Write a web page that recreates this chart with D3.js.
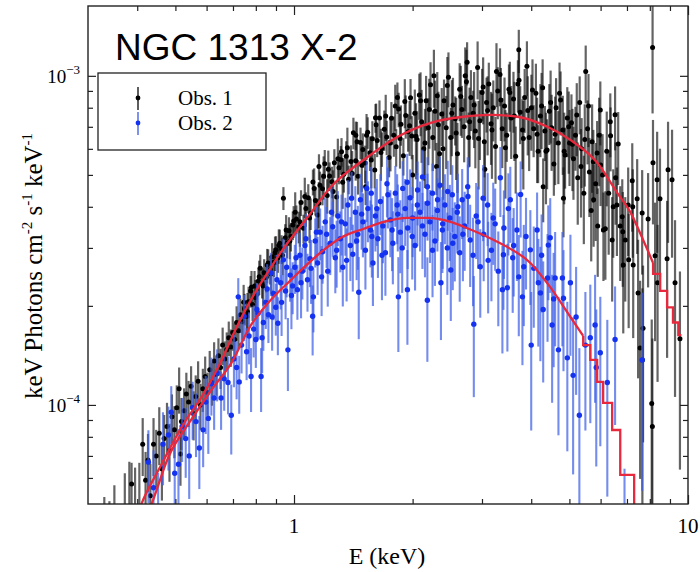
<!DOCTYPE html>
<html>
<head>
<meta charset="utf-8">
<script src="https://cdn.jsdelivr.net/npm/d3@7"></script>
<style>
  body { margin: 0; background: #fff; }
  #chart { width: 700px; height: 572px; }
</style>
</head>
<body>
<div id="chart"></div>
<script>
/*  spectrum data: [energy keV, flux, relative error]  */
var obs1Points = [
  [0.330,3.5e-5,.5],[0.340,3.4e-5,.5],[0.350,3.8e-5,.5],[0.372,4.0e-5,.55],[0.382,4.2e-5,.6],[0.387,5.75e-5,.16],
  [0.395,4.3e-5,.5],[0.405,4.6e-5,.45],[0.413,7.6e-5,.2],[0.420,5.9e-5,.22],[0.426,6.8e-5,.2],[0.432,5.3e-5,.25],
  [0.440,7.6e-5,.2],[0.447,7.0e-5,.2],[0.455,8.2e-5,.2],[0.462,6.4e-5,.2],[0.468,7.9e-5,.18],[0.476,8.6e-5,.18],
  [0.483,7.3e-5,.2],[0.490,9.2e-5,.17],[0.497,8.4e-5,.18],[0.504,9.8e-5,.17],[0.511,1.12e-4,.16],[0.515,7.1e-5,.2],
  [0.518,8.9e-5,.18],[0.526,9.6e-5,.17],[0.533,1.08e-4,.16],[0.540,1.02e-4,.16],[0.548,1.14e-4,.15],[0.556,9.4e-5,.17],
  [0.563,1.06e-4,.16],[0.571,1.18e-4,.15],[0.579,1.00e-4,.16],[0.587,1.12e-4,.15],[0.595,1.22e-4,.15],[0.603,1.09e-4,.15],
  [0.611,1.28e-4,.14],[0.619,1.17e-4,.15],[0.627,1.36e-4,.14],[0.635,1.24e-4,.14],[0.643,1.41e-4,.13],[0.651,1.30e-4,.14],
  [0.659,1.52e-4,.13],[0.667,1.38e-4,.13],[0.675,1.47e-4,.13],[0.683,1.60e-4,.12],[0.691,1.50e-4,.13],[0.699,1.66e-4,.12],
  [0.707,1.58e-4,.12],[0.715,1.78e-4,.12],[0.723,1.68e-4,.12],[0.731,1.88e-4,.12],[0.740,1.79e-4,.12],[0.745,2.05e-4,.13],
  [0.749,1.96e-4,.11],[0.758,1.86e-4,.12],[0.762,1.92e-4,.14],[0.767,2.06e-4,.11],[0.776,2.22e-4,.11],[0.780,2.28e-4,.12],
  [0.785,2.02e-4,.11],[0.794,2.30e-4,.11],[0.798,2.12e-4,.13],[0.803,2.16e-4,.11],[0.812,2.38e-4,.1],[0.816,2.45e-4,.12],
  [0.821,2.60e-4,.1],[0.830,2.34e-4,.1],[0.835,2.30e-4,.13],[0.840,2.52e-4,.1],[0.850,2.44e-4,.1],[0.855,2.66e-4,.12],
  [0.860,2.70e-4,.1],[0.870,2.58e-4,.1],[0.875,2.50e-4,.13],[0.880,2.82e-4,.1],[0.890,2.72e-4,.1],[0.895,2.90e-4,.12],
  [0.900,2.96e-4,.1],[0.910,2.80e-4,.1],[0.915,3.05e-4,.12],[0.920,3.10e-4,.1],[0.930,2.98e-4,.1],[0.935,2.85e-4,.13],
  [0.940,4.25e-4,.08],[0.950,3.22e-4,.1],[0.955,3.40e-4,.11],[0.960,3.10e-4,.1],[0.971,3.38e-4,.1],[0.976,3.15e-4,.12],
  [0.982,3.25e-4,.1],[0.993,3.52e-4,.1],[0.998,3.62e-4,.11],
  [1.007,3.85e-4,.15],[1.014,3.67e-4,.1],[1.028,3.48e-4,.11],[1.035,3.60e-4,.16],[1.042,4.12e-4,.09],[1.057,3.44e-4,.1],
  [1.065,4.30e-4,.14],[1.072,3.95e-4,.12],[1.087,4.26e-4,.1],[1.095,3.70e-4,.16],[1.102,3.82e-4,.11],[1.117,4.76e-4,.09],
  [1.125,4.55e-4,.15],[1.133,4.18e-4,.1],[1.148,3.78e-4,.12],[1.156,4.10e-4,.16],[1.157,5.30e-4,.09],[1.164,4.65e-4,.1],
  [1.181,4.54e-4,.11],[1.189,4.95e-4,.15],[1.197,5.41e-4,.1],[1.214,4.33e-4,.12],[1.222,5.20e-4,.14],[1.231,4.96e-4,.1],
  [1.248,4.77e-4,.11],[1.257,4.45e-4,.16],[1.266,5.44e-4,.1],[1.283,4.28e-4,.12],[1.292,5.60e-4,.15],[1.301,5.26e-4,.11],
  [1.315,5.56e-4,.1],[1.320,5.88e-4,.1],[1.329,4.75e-4,.17],[1.338,5.02e-4,.12],[1.357,5.70e-4,.11],[1.366,6.05e-4,.15],
  [1.376,4.85e-4,.1],[1.395,5.49e-4,.12],[1.405,5.05e-4,.17],[1.415,6.72e-4,.11],[1.434,5.52e-4,.13],[1.435,6.60e-4,.1],
  [1.445,6.30e-4,.15],[1.454,4.95e-4,.12],[1.475,6.27e-4,.11],[1.486,5.35e-4,.17],[1.495,5.97e-4,.12],[1.516,5.43e-4,.13],
  [1.520,4.60e-4,.12],[1.528,6.60e-4,.16],[1.538,6.74e-4,.11],[1.559,5.84e-4,.12],[1.571,5.55e-4,.18],[1.581,6.44e-4,.13],
  [1.603,5.17e-4,.12],[1.610,7.46e-4,.1],[1.616,7.10e-4,.16],[1.626,6.36e-4,.11],[1.648,7.45e-4,.13],[1.662,5.85e-4,.18],
  [1.672,6.01e-4,.12],[1.695,6.88e-4,.14],[1.709,7.55e-4,.16],[1.719,6.52e-4,.12],[1.743,5.65e-4,.13],[1.757,6.25e-4,.18],
  [1.767,7.43e-4,.12],[1.792,6.60e-4,.14],[1.807,8.10e-4,.16],[1.817,6.09e-4,.13],[1.830,8.60e-4,.11],[1.843,7.93e-4,.12],
  [1.858,6.45e-4,.19],[1.868,7.13e-4,.14],[1.895,5.72e-4,.13],[1.911,8.35e-4,.17],[1.921,7.58e-4,.15],[1.948,6.76e-4,.13],
  [1.965,7.05e-4,.19],[1.976,8.58e-4,.14],[1.990,6.56e-4,.15],[2.000,5.0e-4,.15],
  [2.026,7.7e-4,.18],[2.040,6.55e-4,.26],[2.053,6.4e-4,.22],[2.080,8.75e-4,.16],[2.095,8.4e-4,.22],[2.108,7.25e-4,.25],
  [2.135,6.0e-4,.2],[2.150,6.25e-4,.27],[2.164,8.4e-4,.19],[2.192,6.95e-4,.23],[2.205,7.9e-4,.24],[2.221,9.4e-4,.17],
  [2.250,6.5e-4,.21],[2.265,1.0e-3,.2],[2.280,7.8e-4,.24],[2.300,5.3e-4,.18],[2.310,8.7e-4,.18],[2.325,7.1e-4,.26],
  [2.341,5.8e-4,.22],[2.371,7.65e-4,.2],[2.390,6.0e-4,.3],[2.403,8.4e-4,.16],[2.434,6.95e-4,.25],[2.450,9.35e-4,.22],
  [2.466,9.9e-4,.19],[2.499,6.5e-4,.23],[2.515,7.7e-4,.26],[2.532,8.15e-4,.21],[2.565,7.4e-4,.17],[2.580,6.7e-4,.28],
  [2.599,5.8e-4,.24],[2.633,9.1e-4,.2],[2.650,8.65e-4,.24],[2.668,7.9e-4,.18],[2.703,7.0e-4,.22],[2.720,1.0e-3,.22],
  [2.739,9.6e-4,.25],[2.750,1.10e-3,.15],[2.775,6.5e-4,.19],[2.790,7.25e-4,.27],[2.812,8.6e-4,.21],[2.849,7.7e-4,.17],
  [2.865,8.15e-4,.26],[2.886,6.8e-4,.23],[2.924,1.06e-3,.2],[2.940,6.45e-4,.3],[2.963,7.3e-4,.24],[3.002,8.9e-4,.18],
  [3.020,9.25e-4,.23],[3.041,6.3e-4,.22],[3.050,5.2e-4,.2],[3.081,8.3e-4,.19],[3.100,7.85e-4,.27],[3.122,9.45e-4,.16],
  [3.163,7.15e-4,.25],[3.180,6.85e-4,.29],[3.205,8.0e-4,.21],[3.247,6.1e-4,.23],[3.265,1.03e-3,.22],[3.290,9.0e-4,.18],
  [3.333,1.01e-3,.2],[3.350,8.45e-4,.25],[3.377,6.9e-4,.24],[3.422,8.1e-4,.22],[3.440,6.05e-4,.3],[3.467,6.6e-4,.17],
  [3.512,9.1e-4,.19],[3.530,8.9e-4,.24],[3.559,7.45e-4,.25],[3.606,8.5e-4,.21],[3.625,7.55e-4,.27],[3.653,5.7e-4,.23],
  [3.701,9.45e-4,.18],[3.720,1.20e-3,.15],[3.725,9.7e-4,.23],[3.750,7.75e-4,.2],[3.800,6.85e-4,.24],[3.820,6.45e-4,.3],
  [3.850,8.6e-4,.22],[3.901,1.07e-3,.19],[3.920,7.85e-4,.27],[3.952,6.5e-4,.21],[4.004,8.0e-4,.26],[4.030,9.05e-4,.24],
  [4.057,6.9e-4,.18],[4.111,8.85e-4,.23],[4.140,6.65e-4,.29],[4.165,5.9e-4,.2],[4.220,7.55e-4,.25],[4.250,8.1e-4,.26],
  [4.276,9.2e-4,.22],[4.290,4.6e-4,.22],[4.332,6.8e-4,.19],[4.360,5.9e-4,.31],[4.389,5.95e-4,.24],[4.447,7.8e-4,.21],
  [4.480,8.3e-4,.25],[4.506,6.95e-4,.26],[4.566,5.4e-4,.2],[4.600,6.65e-4,.3],[4.626,8.0e-4,.23],[4.687,6.25e-4,.25],
  [4.720,8.85e-4,.24],[4.749,8.45e-4,.22],[4.811,6.85e-4,.27],[4.830,4.25e-4,.24],[4.850,5.9e-4,.31],[4.875,5.75e-4,.21],
  [4.939,7.45e-4,.24],[4.980,7.0e-4,.28],[5.004,6.25e-4,.26],
  [5.06,7.2e-4,.22],[5.09,6.2e-4,.28],[5.12,5.6e-4,.25],[5.18,6.6e-4,.22],[5.22,7.6e-4,.25],[5.25,4.9e-4,.28],
  [5.31,8.3e-4,.2],[5.35,5.3e-4,.3],[5.37,6.0e-4,.24],[5.44,4.4e-4,.3],[5.47,6.4e-4,.28],[5.50,1.03e-3,.2],
  [5.56,6.9e-4,.22],[5.59,8.1e-4,.25],[5.62,5.1e-4,.27],[5.68,3.9e-4,.3],[5.71,6.3e-4,.3],[5.75,5.48e-4,.25],
  [5.76,4.2e-4,.28],[5.83,4.7e-4,.33],[5.88,5.83e-4,.25],[5.90,3.50e-4,.3],[5.95,6.6e-4,.3],[5.99,7.88e-4,.22],
  [6.00,5.36e-4,.25],[6.07,5.0e-4,.33],[6.10,3.40e-4,.3],[6.17,3.43e-4,.3],[6.22,5.9e-4,.32],[6.29,4.4e-4,.35],
  [6.35,7.25e-4,.22],[6.36,6.57e-4,.22],[6.42,3.17e-4,.35],[6.46,4.00e-4,.3],[6.53,7.61e-4,.22],[6.55,4.90e-4,.28],
  [6.60,4.05e-4,.3],[6.65,6.21e-4,.25],[6.73,3.50e-4,.32],[6.81,3.73e-4,.3],[6.83,3.36e-4,.32],[6.85,2.66e-4,.38],
  [6.93,3.17e-4,.35],[7.05,4.05e-4,.3],[7.07,2.76e-4,.38],[7.22,4.80e-4,.3],[7.24,4.00e-4,.3],[7.26,2.66e-4,.4],
  [7.43,4.23e-4,.32],[7.47,2.19e-4,.45],[7.56,1.49e-4,.6],[7.65,3.83e-4,.35],[7.66,1.37e-4,.65],[7.69,1.71e-4,.55],
  [7.92,3.67e-4,.38],[8.09,1.01e-4,.8],[8.12,8.6e-5,.85],[8.13,1.22e-3,.37],[8.15,5.44e-4,.35],[8.25,2.84e-4,.45],
  [8.35,4.83e-4,.4],[8.37,2.35e-4,.5],[8.49,4.23e-4,.42],[8.85,2.78e-4,.5],[8.90,5.18e-4,.4],[9.11,4.83e-4,.42],
  [9.27,2.35e-4,.55],[9.54,1.59e-4,.6]
];

var obs2Points = [
  [0.427,6.7e-5,.25],[0.440,5.6e-5,.3],[0.452,4.6e-5,.35],[0.465,7.6e-5,.25],[0.480,8.1e-5,.22],[0.488,9.5e-5,.2],
  [0.498,6.2e-5,.28],[0.509,6.6e-5,.28],[0.520,8.6e-5,.22],[0.531,7.9e-5,.24],[0.542,7.0e-5,.26],[0.553,9.8e-5,.2],
  [0.564,8.9e-5,.22],[0.575,7.4e-5,.25],[0.588,8.4e-5,.23],[0.597,1.02e-4,.2],[0.606,9.1e-5,.22],[0.617,1.16e-4,.2],
  [0.627,1.05e-4,.2],[0.638,1.25e-4,.18],[0.653,1.05e-4,.2],[0.665,1.20e-4,.2],[0.680,1.17e-4,.2],[0.693,9.3e-5,.24],
  [0.704,1.38e-4,.18],[0.715,1.30e-4,.2],[0.722,2.13e-4,.14],[0.726,1.175e-4,.2],[0.736,1.52e-4,.18],[0.747,1.86e-4,.16],
  [0.758,1.45e-4,.18],[0.769,1.62e-4,.18],[0.778,1.22e-4,.22],[0.790,1.70e-4,.18],[0.800,1.58e-4,.18],[0.805,1.95e-4,.2],
  [0.811,1.90e-4,.17],[0.825,1.22e-4,.22],[0.830,1.60e-4,.22],[0.836,1.78e-4,.18],[0.848,2.05e-4,.17],[0.855,2.25e-4,.19],
  [0.861,1.88e-4,.18],[0.874,2.52e-4,.15],[0.880,1.85e-4,.21],[0.887,2.18e-4,.17],[0.899,1.98e-4,.18],[0.905,2.40e-4,.19],
  [0.910,1.77e-4,.2],[0.925,2.35e-4,.17],[0.930,2.05e-4,.21],[0.940,2.76e-4,.16],[0.952,2.22e-4,.18],[0.958,2.62e-4,.19],
  [0.965,1.47e-4,.25],[0.978,2.48e-4,.17],[0.985,2.15e-4,.21],[0.992,2.30e-4,.18],[1.005,2.62e-4,.17],[1.012,2.80e-4,.2],
  [1.020,2.24e-4,.19],[1.035,2.85e-4,.17],[1.042,2.35e-4,.22],[1.050,2.55e-4,.18],[1.066,3.05e-4,.17],[1.072,3.20e-4,.19],
  [1.082,2.40e-4,.2],[1.098,2.78e-4,.18],[1.105,2.60e-4,.22],[1.115,1.86e-4,.24],[1.120,2.13e-4,.22],[1.132,3.15e-4,.17],
  [1.140,3.35e-4,.2],[1.148,2.70e-4,.2],[1.165,3.35e-4,.18],[1.175,2.45e-4,.24],[1.182,2.92e-4,.2],[1.200,3.60e-4,.18],
  [1.210,3.30e-4,.21],[1.218,2.55e-4,.22],[1.236,3.10e-4,.2],[1.245,3.85e-4,.2],[1.254,3.48e-4,.19],[1.273,2.80e-4,.22],
  [1.283,2.95e-4,.23],[1.292,3.75e-4,.19],[1.311,3.20e-4,.21],[1.320,3.60e-4,.21],[1.330,2.62e-4,.24],[1.350,3.55e-4,.2],
  [1.360,2.75e-4,.25],[1.370,4.05e-4,.19],[1.390,3.05e-4,.22],[1.400,4.25e-4,.2],[1.410,2.87e-4,.23],[1.431,3.85e-4,.2],
  [1.442,3.15e-4,.24],[1.452,3.30e-4,.22],[1.460,2.20e-4,.28],[1.474,4.20e-4,.2],[1.485,3.80e-4,.22],[1.496,3.60e-4,.22],
  [1.518,2.95e-4,.24],[1.530,4.55e-4,.21],[1.540,3.95e-4,.21],[1.563,3.40e-4,.23],[1.570,4.40e-4,.2],[1.576,3.25e-4,.25],
  [1.586,2.70e-4,.26],[1.609,3.75e-4,.22],[1.623,3.95e-4,.23],[1.633,3.20e-4,.24],[1.657,4.15e-4,.21],[1.672,2.85e-4,.27],
  [1.681,3.50e-4,.23],[1.706,2.90e-4,.26],[1.722,4.70e-4,.21],[1.731,4.35e-4,.21],[1.756,3.65e-4,.23],[1.774,3.40e-4,.25],
  [1.782,3.10e-4,.25],[1.808,4.40e-4,.21],[1.827,4.05e-4,.24],[1.834,3.80e-4,.23],[1.840,2.13e-4,.32],[1.861,3.35e-4,.25],
  [1.882,3.00e-4,.27],[1.888,4.55e-4,.21],[1.915,3.95e-4,.23],[1.938,4.75e-4,.22],[1.940,2.24e-4,.32],[1.943,3.45e-4,.25],
  [1.971,4.26e-4,.22],[1.996,3.25e-4,.26],[2.000,3.70e-4,.24],[2.029,3.05e-4,.27],[2.056,4.05e-4,.25],[2.059,4.50e-4,.22],
  [2.089,3.85e-4,.24],[2.118,3.50e-4,.26],[2.119,4.93e-4,.21],[2.150,3.30e-4,.26],[2.180,2.08e-4,.35],[2.181,4.60e-4,.23],
  [2.182,4.10e-4,.23],[2.214,3.60e-4,.25],[2.246,4.40e-4,.23],[2.247,2.95e-4,.28],[2.279,3.15e-4,.27],[2.312,3.90e-4,.25],
  [2.314,4.20e-4,.25],[2.346,4.65e-4,.22],[2.360,2.35e-4,.33],[2.380,3.40e-4,.26],[2.384,3.55e-4,.27],[2.415,4.05e-4,.24],
  [2.450,3.00e-4,.28],[2.455,4.45e-4,.24],[2.486,3.70e-4,.26],[2.500,2.57e-4,.3],[2.522,4.35e-4,.23],[2.529,3.10e-4,.28],
  [2.559,3.25e-4,.27],[2.596,3.85e-4,.25],[2.605,4.00e-4,.26],[2.634,2.90e-4,.29],[2.672,4.20e-4,.24],[2.683,3.30e-4,.28],
  [2.711,3.50e-4,.27],[2.760,4.60e-4,.23],[2.764,4.30e-4,.25],[2.800,3.17e-4,.28],[2.847,2.85e-4,.3],[2.860,1.76e-4,.4],
  [2.900,3.75e-4,.26],[2.932,3.60e-4,.28],[2.970,2.63e-4,.3],[3.020,4.25e-4,.26],[3.030,3.30e-4,.28],[3.100,4.05e-4,.25],
  [3.110,2.75e-4,.31],[3.170,2.95e-4,.3],[3.204,3.70e-4,.28],[3.240,3.55e-4,.28],[3.300,2.55e-4,.32],[3.340,4.90e-4,.24],
  [3.380,2.24e-4,.36],[3.400,2.86e-4,.32],[3.410,3.45e-4,.3],[3.480,2.27e-4,.36],[3.500,3.95e-4,.28],[3.540,4.20e-4,.26],
  [3.590,2.80e-4,.32],[3.610,3.05e-4,.3],[3.680,3.40e-4,.3],[3.720,2.45e-4,.34],[3.760,4.36e-4,.26],[3.800,2.13e-4,.38],
  [3.830,2.63e-4,.34],[3.880,3.25e-4,.31],[3.980,2.96e-4,.32],[4.000,1.52e-4,.45],[4.060,2.60e-4,.34],[4.140,3.40e-4,.3],
  [4.170,2.35e-4,.36],[4.220,2.19e-4,.38],[4.250,2.85e-4,.33],[4.290,1.95e-4,.4],[4.400,2.43e-4,.36],[4.420,3.06e-4,.32],
  [4.470,3.22e-4,.32],[4.520,1.75e-4,.42],[4.560,2.10e-4,.38],[4.600,2.43e-4,.38],[4.690,1.47e-4,.45],[4.800,2.43e-4,.38],
  [4.830,2.11e-4,.4],[4.940,1.39e-4,.48],[5.030,2.35e-4,.4],[5.110,1.23e-4,.5],[5.200,1.85e-4,.42],[5.300,9.3e-5,.6],
  [5.490,1.52e-4,.45],[5.650,1.60e-4,.45],[5.810,1.75e-4,.42],[5.850,1.30e-4,.5],[5.990,1.44e-4,.48],[6.240,1.17e-4,.55],
  [6.530,1.58e-4,.45],[6.900,4.0e-5,.6],[7.650,1.37e-4,.6]
];

/*  best-fit model curves: smooth part [energy keV, flux], then binned steps  */
var model1Curve = [
  [0.39,4.2e-5],[0.410,5.0e-5],[0.453,6.34e-5],[0.526,8.81e-5],[0.581,1.05e-4],[0.646,1.32e-4],[0.713,1.71e-4],
  [0.778,2.09e-4],[0.849,2.48e-4],[0.943,3.0e-4],[1.085,3.73e-4],[1.241,4.6e-4],[1.504,5.56e-4],[1.834,6.53e-4],
  [2.223,7.2e-4],[2.694,7.51e-4],[3.153,7.61e-4],[3.691,7.51e-4],[4.396,7.0e-4],[5.026,6.39e-4],[5.884,5.44e-4],
  [6.612,4.41e-4],[7.133,3.86e-4],[7.557,3.33e-4],[7.90,2.95e-4],[8.155,2.70e-4]
];
var model1Steps = [
  [8.155,2.70e-4],[8.155,2.50e-4],[8.50,2.50e-4],[8.50,2.22e-4],[8.85,2.22e-4],[8.85,1.98e-4],[9.16,1.98e-4],
  [9.16,1.78e-4],[9.45,1.78e-4],[9.45,1.63e-4],[9.62,1.63e-4]
];
var model2Curve = [
  [0.41,4.2e-5],[0.435,5.0e-5],[0.480,6.95e-5],[0.548,9.0e-5],[0.617,1.11e-4],[0.693,1.34e-4],[0.778,1.75e-4],
  [0.859,2.04e-4],[0.983,2.40e-4],[1.15,2.86e-4],[1.315,3.22e-4],[1.504,3.43e-4],[1.69,3.60e-4],[1.943,3.70e-4],
  [2.184,3.70e-4],[2.497,3.60e-4],[2.694,3.48e-4],[3.28,3.13e-4],[3.98,2.70e-4],[4.47,2.28e-4],[5.03,1.85e-4],
  [5.42,1.62e-4]
];
var model2Steps = [
  [5.42,1.62e-4],[5.42,1.52e-4],[5.65,1.52e-4],[5.65,1.37e-4],[5.88,1.37e-4],[5.88,1.175e-4],[6.09,1.175e-4],
  [6.09,1.014e-4],[6.42,1.014e-4],[6.42,8.39e-5],[6.73,8.39e-5],[6.73,6.13e-5],[7.30,6.13e-5],[7.30,3.0e-5]
];

var xMajorTicks = [1, 10];
var xMinorTicks = [0.4, 0.5, 0.6, 0.7, 0.8, 0.9, 2, 3, 4, 5, 6, 7, 8, 9];
var yMajorTicks = [1e-4, 1e-3];
var yMajorExponents = ["\u22124", "\u22123"];
var yMinorTicks = [6e-5, 7e-5, 8e-5, 9e-5, 2e-4, 3e-4, 4e-4, 5e-4, 6e-4, 7e-4, 8e-4, 9e-4];
var legendLabels = ["Obs. 1", "Obs. 2"];
var chartTitle = "NGC 1313 X-2";

function SpectrumChart() {

    var self = this;

    self.initialize = function (graphConf) {
        self.el = document.getElementById(graphConf.el);
        self.margin = { top: 6, right: 12, bottom: 68, left: 88 };
        self.graphWidth = 700;
        self.graphHeight = 572;
        self.width = self.graphWidth - self.margin.left - self.margin.right;
        self.height = self.graphHeight - self.margin.top - self.margin.bottom;
        self.serif = "'Liberation Serif', 'DejaVu Serif', serif";
        self.colors = { obs1: "#000", obs1Bar: "#111", obs2: "#1432f0", obs2Bar: "#3f5fe6", model: "#e8283c" };
        self.parseData();
    }

    self.parseData = function () {
        self.xScale = d3.scaleLog().domain([0.3, 10]).range([0, self.width]);
        self.yScale = d3.scaleLog().domain([5e-5, 1.63e-3]).range([self.height, 0]);
        self.render();
    }

    self.render = function () {
        self.getChartingAreaPane();
        self.renderSeries(obs1Points, "obs1", self.colors.obs1Bar, 0.65, 2.2, self.colors.obs1, 2.5);
        self.renderSeries(obs2Points, "obs2", self.colors.obs2Bar, 0.72, 2.1, self.colors.obs2, 2.7);
        self.renderModels();
        self.renderAxes();
        self.renderLabels();
        self.renderLegend();
    }

    self.getChartingAreaPane = function () {
        self.svg = d3.select(self.el).append("svg")
            .attr("width", self.graphWidth)
            .attr("height", self.graphHeight);

        self.svg.append("defs").append("clipPath").attr("id", "plotClip")
            .append("rect").attr("width", self.width).attr("height", self.height);

        self.g = self.svg.append("g")
            .attr("transform", "translate(" + self.margin.left + "," + self.margin.top + ")");
        self.plot = self.g.append("g").attr("clip-path", "url(#plotClip)");
    }

    self.renderSeries = function (points, cls, barColor, barOpacity, barWidth, dotColor, radius) {
        var layer = self.plot.append("g").attr("class", cls);

        /*  error bars  */
        layer.selectAll("line")
            .data(points)
            .enter().append("line")
            .attr("x1", function (d) { return self.xScale(d[0]); })
            .attr("x2", function (d) { return self.xScale(d[0]); })
            .attr("y1", function (d) { return self.yScale(d[1] * (1 + d[2])); })
            .attr("y2", function (d) { return self.yScale(Math.max(d[1] * (1 - d[2]), 1e-6)); })
            .attr("stroke", barColor)
            .attr("stroke-opacity", barOpacity)
            .attr("stroke-width", barWidth);

        /*  points  */
        layer.selectAll("circle")
            .data(points)
            .enter().append("circle")
            .attr("cx", function (d) { return self.xScale(d[0]); })
            .attr("cy", function (d) { return self.yScale(d[1]); })
            .attr("r", radius)
            .attr("fill", dotColor);
    }

    self.renderModels = function () {
        var smooth = d3.line()
            .curve(d3.curveMonotoneX)
            .x(function (d) { return self.xScale(d[0]); })
            .y(function (d) { return self.yScale(d[1]); });
        var steps = d3.line()
            .x(function (d) { return self.xScale(d[0]); })
            .y(function (d) { return self.yScale(d[1]); });

        [[model1Curve, smooth], [model1Steps, steps], [model2Curve, smooth], [model2Steps, steps]].forEach(function (m) {
            self.plot.append("path")
                .datum(m[0])
                .attr("d", m[1])
                .attr("fill", "none")
                .attr("stroke", self.colors.model)
                .attr("stroke-width", 2.3)
                .attr("stroke-linejoin", "miter");
        });
    }

    self.renderAxes = function () {
        var w = self.width, h = self.height;
        var fmt = function () { return ""; };

        var addAxis = function (axis, tx, ty) {
            self.g.append("g")
                .attr("transform", "translate(" + tx + "," + ty + ")")
                .call(axis.tickSizeOuter(0).tickFormat(fmt))
                .call(function (a) { a.select(".domain").remove(); })
                .selectAll("line").attr("stroke", "#222").attr("stroke-width", 1.2);
        };

        /*  ticks pointing inward on all four sides  */
        addAxis(d3.axisBottom(self.xScale).tickValues(xMajorTicks).tickSizeInner(-9), 0, h);
        addAxis(d3.axisBottom(self.xScale).tickValues(xMinorTicks).tickSizeInner(-5), 0, h);
        addAxis(d3.axisTop(self.xScale).tickValues(xMajorTicks).tickSizeInner(-9), 0, 0);
        addAxis(d3.axisTop(self.xScale).tickValues(xMinorTicks).tickSizeInner(-5), 0, 0);
        addAxis(d3.axisLeft(self.yScale).tickValues(yMajorTicks).tickSizeInner(-8), 0, 0);
        addAxis(d3.axisLeft(self.yScale).tickValues(yMinorTicks).tickSizeInner(-5), 0, 0);
        addAxis(d3.axisRight(self.yScale).tickValues(yMajorTicks).tickSizeInner(-8), w, 0);
        addAxis(d3.axisRight(self.yScale).tickValues(yMinorTicks).tickSizeInner(-5), w, 0);

        self.g.append("rect")
            .attr("width", w).attr("height", h)
            .attr("fill", "none").attr("stroke", "#222").attr("stroke-width", 1.4);

        /*  tick labels  */
        self.g.selectAll(".xlabel")
            .data(xMajorTicks)
            .enter().append("text")
            .attr("class", "xlabel")
            .attr("x", function (d) { return self.xScale(d); })
            .attr("y", h + 29)
            .attr("text-anchor", "middle")
            .style("font-family", self.serif)
            .style("font-size", "21px")
            .text(function (d) { return d; });

        var yl = self.g.selectAll(".ylabel")
            .data(yMajorTicks)
            .enter().append("text")
            .attr("class", "ylabel")
            .attr("x", -8)
            .attr("y", function (d) { return self.yScale(d) + 7; })
            .attr("text-anchor", "end")
            .style("font-family", self.serif)
            .style("font-size", "19px");
        yl.append("tspan").text("10");
        yl.append("tspan")
            .attr("dy", -9)
            .style("font-size", "13px")
            .text(function (d, i) { return yMajorExponents[i]; });
    }

    self.renderLabels = function () {
        self.svg.append("text")
            .attr("x", 387)
            .attr("y", 564)
            .attr("text-anchor", "middle")
            .style("font-family", self.serif)
            .style("font-size", "24px")
            .text("E (keV)");

        var yt = self.svg.append("text")
            .attr("transform", "translate(42,266) rotate(-90)")
            .attr("text-anchor", "middle")
            .style("font-family", self.serif)
            .style("font-size", "25px");
        yt.append("tspan").text("keV Photons cm");
        yt.append("tspan").attr("dy", -10).style("font-size", "15px").text("-2");
        yt.append("tspan").attr("dy", 10).text(" s");
        yt.append("tspan").attr("dy", -10).style("font-size", "15px").text("-1");
        yt.append("tspan").attr("dy", 10).text(" keV");
        yt.append("tspan").attr("dy", -10).style("font-size", "15px").text("-1");

        self.svg.append("text")
            .attr("x", 115)
            .attr("y", 60)
            .style("font-family", "'Liberation Sans', Arial, sans-serif")
            .style("font-size", "37px")
            .text(chartTitle);
    }

    self.renderLegend = function () {
        var lg = self.svg.append("g").attr("transform", "translate(98,73)");
        lg.append("rect")
            .attr("width", 168).attr("height", 77)
            .attr("fill", "#fff").attr("stroke", "#222").attr("stroke-width", 1.3);

        var entries = [
            { label: legendLabels[0], bar: self.colors.obs1Bar, dot: self.colors.obs1 },
            { label: legendLabels[1], bar: self.colors.obs2Bar, dot: self.colors.obs2 }
        ];
        var row = lg.selectAll(".entry")
            .data(entries)
            .enter().append("g")
            .attr("transform", function (d, i) { return "translate(0," + (25 + i * 25) + ")"; });

        row.append("line")
            .attr("x1", 40).attr("x2", 40).attr("y1", -11).attr("y2", 12)
            .attr("stroke", function (d) { return d.bar; })
            .attr("stroke-opacity", 0.8)
            .attr("stroke-width", 1.7);
        row.append("circle")
            .attr("cx", 40).attr("cy", 0).attr("r", 2.4)
            .attr("fill", function (d) { return d.dot; });
        row.append("text")
            .attr("x", 80).attr("y", 7)
            .style("font-family", self.serif)
            .style("font-size", "21px")
            .text(function (d) { return d.label; });
    }
}

var chart = new SpectrumChart();
chart.initialize({ el: "chart" });
</script>
</body>
</html>
